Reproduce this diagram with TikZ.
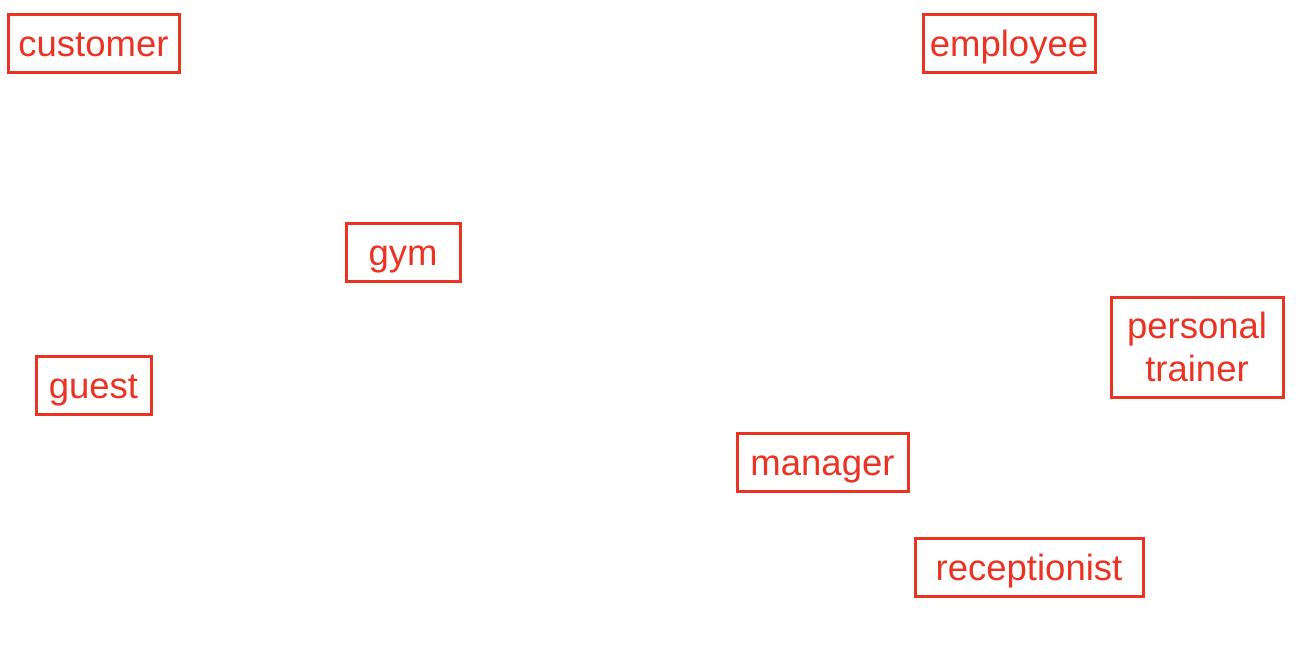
\documentclass[tikz,border=0pt]{standalone}
\usepackage{fontspec}
\setmainfont{Liberation Sans}
\definecolor{boxred}{HTML}{EA3323}
\begin{document}
\begin{tikzpicture}[x=1pt,y=-1pt,
  ent/.style={draw=boxred, text=boxred, line width=3pt, inner sep=0pt, align=center,
    font=\fontsize{36.5}{43}\selectfont},
  one/.style={ent, text height=27pt, text depth=0pt}]
\useasboundingbox (0,0) rectangle (1298,670);
\node[one, minimum width=171, minimum height=58] (customer) at (93.5,43) {customer};
\node[one, minimum width=172, minimum height=58] (employee) at (1009,43) {employee};
\node[one, minimum width=114, minimum height=58] (gym) at (403,252) {gym};
\node[one, minimum width=115, minimum height=58] (guest) at (93.5,385) {guest};
\node[ent, minimum width=172, minimum height=100] (trainer) at (1197,347) {personal\\trainer};
\node[one, minimum width=171, minimum height=58] (manager) at (822.5,462) {manager};
\node[one, minimum width=228, minimum height=58] (receptionist) at (1029,567) {receptionist};
\end{tikzpicture}
\end{document}
